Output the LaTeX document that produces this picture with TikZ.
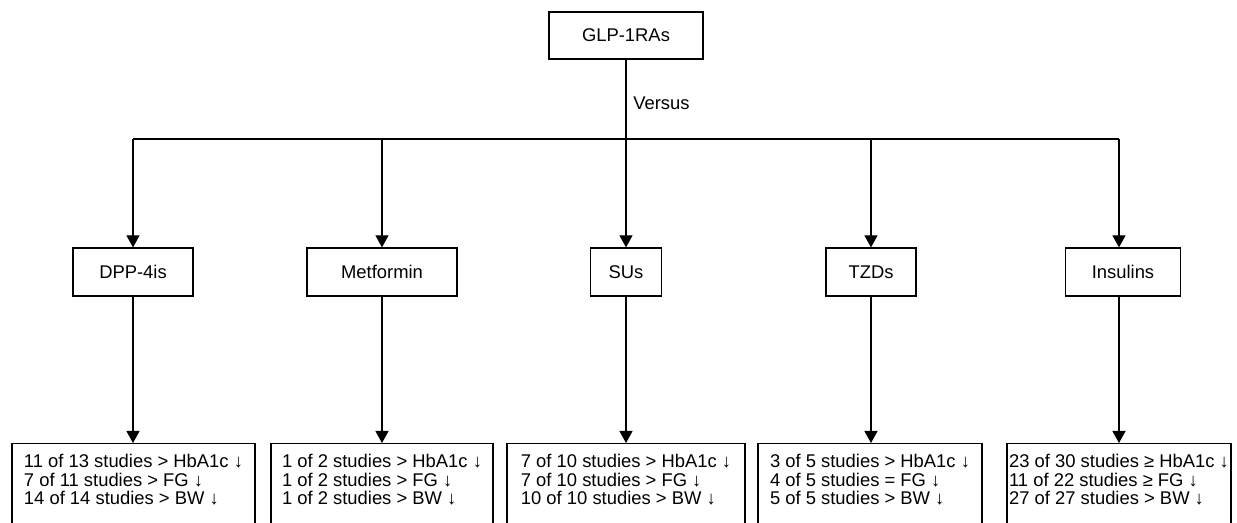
\documentclass[tikz,border=0pt]{standalone}
\usepackage{fontspec}
\setmainfont{Liberation Sans}
\usetikzlibrary{arrows.meta}

% open bottom of the result boxes
\newcommand{\openend}{\rule[-20pt]{0pt}{20pt}}

\tikzset{%
  drug box/.style={draw, minimum height=24pt, inner sep=0pt},
  result box/.style={draw, align=left, anchor=north, inner xsep=0pt, inner ysep=5.5pt},
}

\begin{document}
\begin{tikzpicture}[x=0.5pt, y=-0.5pt, line width=0.6pt, >={Triangle[width=6.5pt,length=6pt]},
  font=\fontsize{9.2pt}{9.25pt}\selectfont]
%=========================================================================================================
% Frame
%=========================================================================================================
\useasboundingbox (0,0) rectangle (1237,523);
\clip (0,0) rectangle (1237,523);

%=========================================================================================================
% Top node
%=========================================================================================================
\node [drug box, minimum width=77pt, minimum height=23.5pt] (glp) at (626,35.5) {GLP-1RAs};
\coordinate (hub) at (626,139);
\draw (glp) -- node [right, pos=0.55] (versus) {Versus} (hub);

%=========================================================================================================
% Drug classes
%=========================================================================================================
\foreach \name/\lbl/\xx/\w in {dpp/DPP-4is/133/60pt, met/Metformin/382/75pt, su/SUs/626/35.5pt, tzd/TZDs/871/45pt, ins/Insulins/1123/57.5pt}
  \node [drug box, minimum width=\w] (\name) at (\xx,272) {\lbl};

%branch points on the horizontal line
\foreach \name/\xx in {dpp/133, met/382, su/626, tzd/871, ins/1119}
  \coordinate (b-\name) at (\xx,139);

\draw (b-dpp) -- (b-ins);

%=========================================================================================================
% Results
%=========================================================================================================
\node [result box, minimum width=121.5pt] (res-dpp) at (133.5,443)
  {11 of 13 studies > HbA1c ↓\\7 of 11 studies > FG ↓\\14 of 14 studies > BW ↓\openend};
\node [result box, minimum width=111pt] (res-met) at (382,443)
  {1 of 2 studies > HbA1c ↓\\1 of 2 studies > FG ↓\\1 of 2 studies > BW ↓\openend};
\node [result box, minimum width=119pt] (res-su) at (626,443)
  {7 of 10 studies > HbA1c ↓\\7 of 10 studies > FG ↓\\10 of 10 studies > BW ↓\openend};
\node [result box, minimum width=112pt] (res-tzd) at (870,443)
  {3 of 5 studies > HbA1c ↓\\4 of 5 studies = FG ↓\\5 of 5 studies > BW ↓\openend};
\node [result box, minimum width=112pt] (res-ins) at (1119,443)
  {23 of 30 studies ≥ HbA1c ↓\\11 of 22 studies ≥ FG ↓\\27 of 27 studies > BW ↓\openend};

%=========================================================================================================
% Draw connections
%=========================================================================================================
\foreach \name in {dpp,met,su,tzd,ins}
{
  \draw [->] (b-\name) -- (b-\name |- \name.north);
  \draw [->] (b-\name |- \name.south) -- (b-\name |- res-\name.north);
}

\end{tikzpicture}
\end{document}
